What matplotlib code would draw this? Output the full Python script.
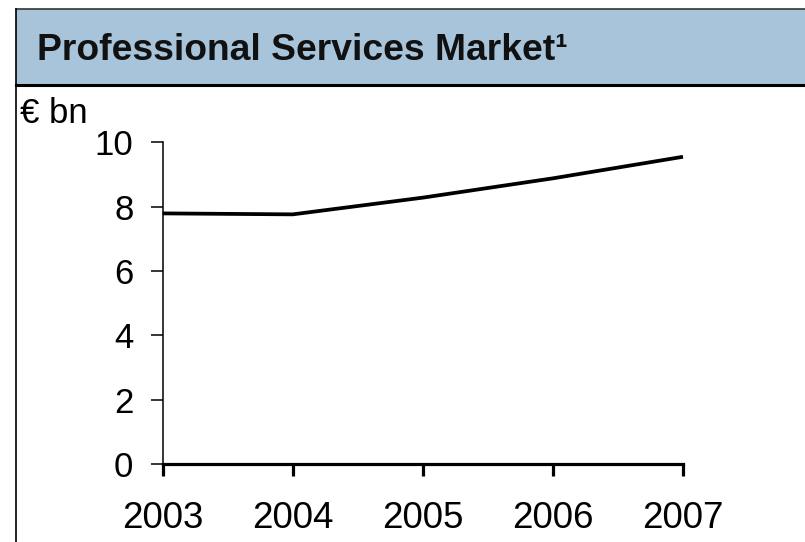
import matplotlib
matplotlib.use("Agg")
import matplotlib.pyplot as plt
from matplotlib.lines import Line2D
from matplotlib.patches import Rectangle

# Market size, € bn
years = [2003, 2004, 2005, 2006, 2007]
market_bn = [7.79, 7.76, 8.28, 8.88, 9.55]
y_ticks = [0, 2, 4, 6, 8, 10]
title = "Professional Services Market\u00b9"
unit_label = "\u20ac bn"

plt.rcParams["font.family"] = ["Liberation Sans", "DejaVu Sans"]

W, H = 805, 542
fig = plt.figure(figsize=(W / 100, H / 100), dpi=100)
fig.patch.set_facecolor("white")


def fx(px):
    return px / W


def fy(py):
    return 1 - py / H


# Header band
fig.add_artist(Rectangle((fx(15.5), fy(84.5)), 1 - fx(15.5), fy(9) - fy(84.5),
                         transform=fig.transFigure, facecolor="#A8C4DA",
                         edgecolor="none", zorder=0))
fig.add_artist(Line2D([fx(15.5), 1], [fy(9), fy(9)], transform=fig.transFigure,
                      color="#333333", lw=1.2))
fig.add_artist(Line2D([fx(15.5), 1], [fy(85), fy(85)], transform=fig.transFigure,
                      color="black", lw=2.2))
fig.add_artist(Line2D([fx(15.5), fx(15.5)], [fy(9), 0], transform=fig.transFigure,
                      color="black", lw=1.2))

fig.text(fx(37), fy(60), title, fontsize=26.8, fontweight="bold",
         ha="left", va="baseline", color="#111111")
fig.text(fx(20), fy(123), unit_label, fontsize=25, ha="left", va="baseline")

# Plot area
x0, x1 = 162.7, 683
y0, y1 = 464, 142.3
ax = fig.add_axes([fx(x0), fy(y0), fx(x1) - fx(x0), fy(y1) - fy(y0)])
ax.set_facecolor("none")
ax.plot(years, market_bn, color="black", lw=2.7, clip_on=False,
        solid_capstyle="butt", zorder=3)

ax.set_xlim(years[0], years[-1])
ax.set_ylim(0, 10)
ax.set_xticks(years)
ax.set_xticklabels([str(y) for y in years])
ax.set_yticks(y_ticks)

for s in ("top", "right"):
    ax.spines[s].set_visible(False)
ax.spines["left"].set_linewidth(1.1)
ax.spines["bottom"].set_linewidth(2.3)
ax.spines["bottom"].set_zorder(4)

ax.tick_params(axis="y", direction="out", length=8.6, width=1.1,
               labelsize=25, pad=12.5)
ax.tick_params(axis="x", direction="out", length=8.6, width=2.3,
               labelsize=26.5, pad=18)

fig.savefig("out.png", dpi=100)
